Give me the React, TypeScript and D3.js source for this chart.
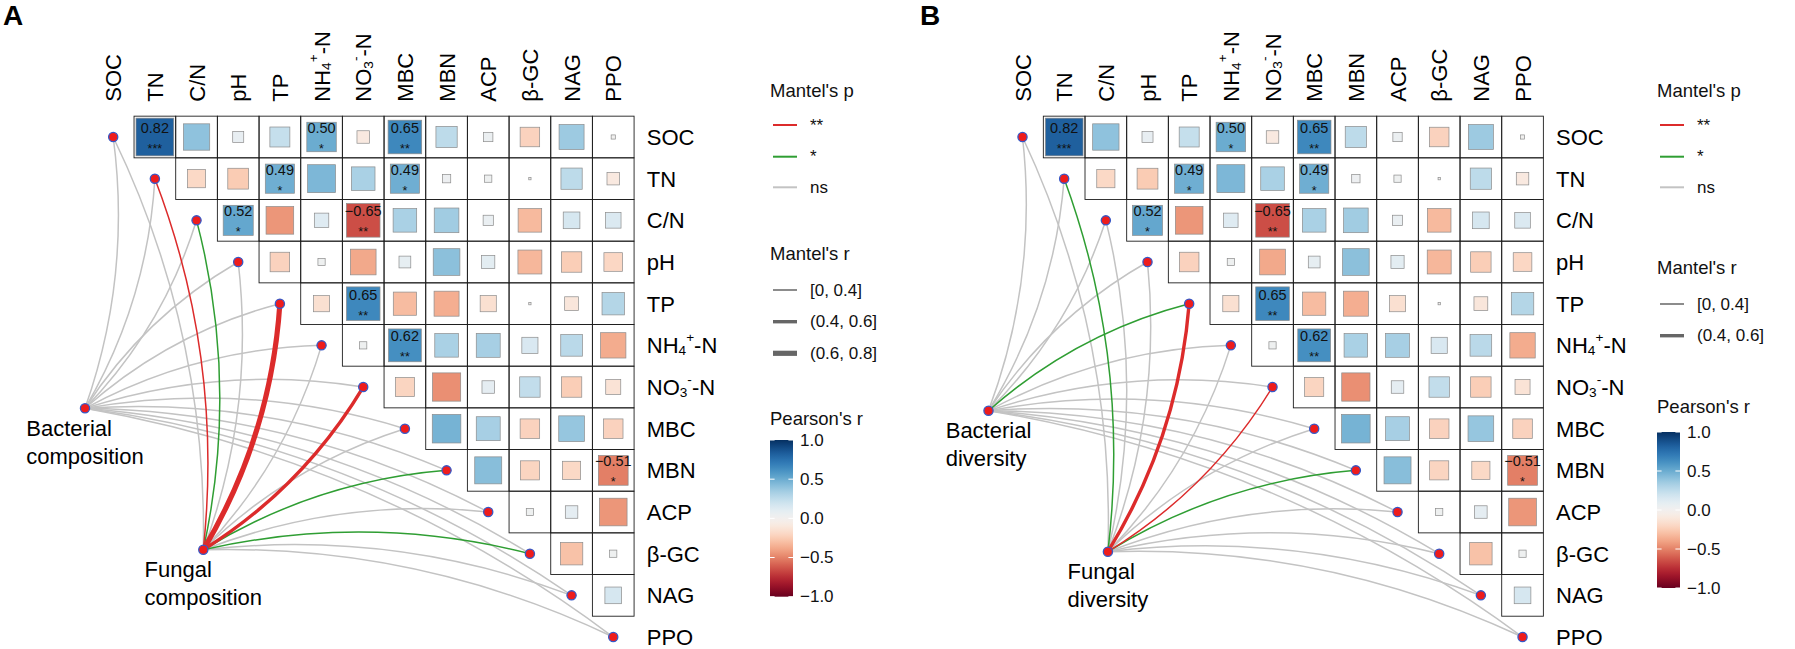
import React from "react";
import * as d3 from "d3";

const FONT = "'Liberation Sans', Arial, Helvetica, sans-serif";

// ---------- data ----------
const VAR_IDS = ["SOC", "TN", "CN", "pH", "TP", "NH4", "NO3", "MBC", "MBN", "ACP", "BGC", "NAG", "PPO"];
type Part = { t: string; sub?: boolean; sup?: boolean };
const VAR_LABELS: Part[][] = [
  [{ t: "SOC" }], [{ t: "TN" }], [{ t: "C/N" }], [{ t: "pH" }], [{ t: "TP" }],
  [{ t: "NH" }, { t: "4", sub: true }, { t: "+", sup: true }, { t: "-N" }],
  [{ t: "NO" }, { t: "3", sub: true }, { t: "-", sup: true }, { t: "-N" }],
  [{ t: "MBC" }], [{ t: "MBN" }], [{ t: "ACP" }], [{ t: "β-GC" }], [{ t: "NAG" }], [{ t: "PPO" }],
];

// Pearson's r, upper triangle (row variable vs. every later variable)
const R_SOC = [0.82, 0.40, 0.07, 0.23, 0.50, -0.09, 0.65, 0.26, 0.05, -0.22, 0.36, 0.01];
const R_TN = [-0.19, -0.25, 0.49, 0.45, 0.32, 0.49, 0.04, 0.03, 0.003, 0.26, -0.09];
const R_CN = [0.52, -0.44, 0.12, -0.65, 0.32, 0.35, 0.06, -0.32, 0.16, 0.14];
const R_PH = [-0.22, 0.03, -0.38, 0.08, 0.41, 0.10, -0.33, -0.24, -0.20];
const R_TP = [-0.15, 0.65, -0.31, -0.36, -0.15, 0.003, -0.11, 0.29];
const R_NH4 = [0.03, 0.62, 0.32, 0.33, 0.15, 0.27, -0.37];
const R_NO3 = [-0.21, -0.46, 0.09, 0.24, -0.24, -0.13];
const R_MBC = [0.47, 0.33, -0.22, 0.38, -0.22];
const R_MBN = [0.42, -0.21, -0.19, -0.51];
const R_ACP = [0.03, 0.09, -0.44];
const R_BGC = [-0.29, 0.03];
const R_NAG = [0.16];
const R_ROWS = [R_SOC, R_TN, R_CN, R_PH, R_TP, R_NH4, R_NO3, R_MBC, R_MBN, R_ACP, R_BGC, R_NAG];

// significant Pearson cells
const SIG_ROW = ["SOC", "SOC", "SOC", "TN", "TN", "CN", "CN", "TP", "NH4", "MBN"];
const SIG_COL = ["TN", "NH4", "MBC", "TP", "MBC", "pH", "NO3", "NO3", "MBC", "PPO"];
const SIG_STARS = ["***", "*", "**", "*", "*", "*", "**", "**", "**", "*"];

// Mantel test classes
const P_LEVELS = ["**", "*", "ns"];
const R_LEVELS = ["[0, 0.4]", "(0.4, 0.6]", "(0.6, 0.8]"];

const A_BACT_P = ["ns", "ns", "ns", "ns", "ns", "ns", "ns", "ns", "ns", "ns", "ns", "ns", "ns"];
const A_BACT_R = [0, 0, 0, 0, 0, 0, 0, 0, 0, 0, 0, 0, 0];
const A_FUNG_P = ["ns", "**", "*", "ns", "**", "ns", "**", "ns", "*", "ns", "*", "ns", "ns"];
const A_FUNG_R = [0, 0, 0, 0, 2, 0, 1, 0, 0, 0, 0, 0, 0];

const B_BACT_P = ["ns", "ns", "ns", "ns", "*", "ns", "ns", "ns", "ns", "ns", "ns", "ns", "ns"];
const B_BACT_R = [0, 0, 0, 0, 0, 0, 0, 0, 0, 0, 0, 0, 0];
const B_FUNG_P = ["ns", "*", "ns", "ns", "**", "ns", "**", "ns", "*", "ns", "ns", "ns", "ns"];
const B_FUNG_R = [0, 0, 0, 0, 1, 0, 0, 0, 0, 0, 0, 0, 0];

const CB_TICKS = [1, 0.5, 0, -0.5, -1];

// ---------- layout ----------
const CELL = 41.67;
const ROW0 = 137;

type Env = { lines: string[]; x: number; y: number; p: string[]; r: number[] };
type PanelCfg = {
  id: string; letter: string; letterX: number; x0: number; envs: Env[];
  legendX: number; pTitle: number; pKeys: number[]; rTitle: number; rKeys: number[];
  nR: number; cTitle: number; bar: [number, number];
};

const PANELS: PanelCfg[] = [
  {
    id: "A", letter: "A", letterX: 3, x0: 113.2,
    envs: [
      { lines: ["Bacterial", "composition"], x: 85, y: 408.3, p: A_BACT_P, r: A_BACT_R },
      { lines: ["Fungal", "composition"], x: 203.3, y: 549.8, p: A_FUNG_P, r: A_FUNG_R },
    ],
    legendX: 770, pTitle: 90, pKeys: [125, 156.7, 187.3], rTitle: 253, rKeys: [290, 321.7, 353.3],
    nR: 3, cTitle: 418.3, bar: [440, 596.7],
  },
  {
    id: "B", letter: "B", letterX: 920, x0: 1022.5,
    envs: [
      { lines: ["Bacterial", "diversity"], x: 988.5, y: 410.7, p: B_BACT_P, r: B_BACT_R },
      { lines: ["Fungal", "diversity"], x: 1107.9, y: 551.7, p: B_FUNG_P, r: B_FUNG_R },
    ],
    legendX: 1657, pTitle: 90, pKeys: [125, 156.7, 187.3], rTitle: 267, rKeys: [304, 335.7],
    nR: 2, cTitle: 406, bar: [432, 588],
  },
];

const colorR = d3.scaleSequential(d3.interpolateRdBu).domain([-1, 1]);
const sizeR = d3.scaleSqrt().domain([0, 1]).range([0, CELL]);
const pColor = d3.scaleOrdinal<string, string>().domain(P_LEVELS).range(["#DC2B2B", "#2F9E33", "#C3C3C3"]);
const rWidth = d3.scaleOrdinal<number, number>().domain([0, 1, 2]).range([1.5, 3.4, 5.2]);
const fmtR = d3.format(".2f");
const fmtTick = d3.format(".1f");

let ctx: CanvasRenderingContext2D | null = null;
function textW(s: string, size: number) {
  if (!ctx) ctx = document.createElement("canvas").getContext("2d");
  if (!ctx) return s.length * size * 0.55;
  ctx.font = `${size}px ${FONT}`;
  return ctx.measureText(s).width;
}

function Parts({ parts, size }: { parts: Part[]; size: number }) {
  let shift = 0;
  return (
    <>
      {parts.map((p, i) => {
        let target = 0;
        let fs = size;
        if (p.sub) { target = size * 0.22; fs = size * 0.62; }
        if (p.sup) { target = -size * 0.38; fs = size * 0.62; }
        const dy = target - shift;
        shift = target;
        return (
          <tspan key={i} dy={dy} fontSize={fs}>{p.t}</tspan>
        );
      })}
    </>
  );
}

function Panel({ cfg }: { cfg: PanelCfg }) {
  const x = d3.scalePoint<string>().domain(VAR_IDS).range([cfg.x0, cfg.x0 + 12 * CELL]);
  const y = d3.scalePoint<string>().domain(VAR_IDS).range([ROW0, ROW0 + 12 * CELL]);
  const half = CELL / 2;

  const cells: { r: string; c: string; v: number }[] = [];
  R_ROWS.forEach((row, i) => row.forEach((v, k) => cells.push({ r: VAR_IDS[i], c: VAR_IDS[i + 1 + k], v })));

  const links: { d: string; col: string; w: number; order: number }[] = [];
  cfg.envs.forEach((env) => {
    VAR_IDS.forEach((vid, j) => {
      const x1 = x(vid)!, y1 = y(vid)!;
      const dx = x1 - env.x, dy = y1 - env.y;
      const L = Math.hypot(dx, dy);
      let nx = dy / L, ny = -dx / L;
      if (nx - ny < 0) { nx = -nx; ny = -ny; }
      const k = 0.12 * L;
      const cx = (env.x + x1) / 2 + nx * k, cy = (env.y + y1) / 2 + ny * k;
      const p = d3.path();
      p.moveTo(env.x, env.y);
      p.quadraticCurveTo(cx, cy, x1, y1);
      const pc = env.p[j];
      links.push({ d: p.toString(), col: pColor(pc), w: rWidth(env.r[j]), order: pc === "ns" ? 0 : pc === "*" ? 1 : 2 });
    });
  });
  links.sort((a, b) => a.order - b.order);

  const gradId = `grad${cfg.id}`;
  const barY = d3.scaleLinear().domain([1, -1]).range(cfg.bar);
  const lx = cfg.legendX;
  const rowLabelX = cfg.x0 + 12 * CELL + half + 12.7;

  return (
    <g>
      <defs>
        <linearGradient id={gradId} x1="0" y1="0" x2="0" y2="1">
          {d3.range(0, 41).map((i) => (
            <stop key={i} offset={i / 40} stopColor={colorR(1 - i / 20)} />
          ))}
        </linearGradient>
      </defs>
      <text x={cfg.letterX} y={25} fontSize={28} fontWeight="bold" fontFamily={FONT}>{cfg.letter}</text>

      {/* cells */}
      {cells.map((c, i) => (
        <rect key={"b" + i} x={x(c.c)! - half} y={y(c.r)! - half} width={CELL} height={CELL}
          fill="none" stroke="#1e1e1e" strokeWidth={0.9} />
      ))}
      {cells.map((c, i) => {
        const s = sizeR(Math.abs(c.v));
        return (
          <rect key={"s" + i} x={x(c.c)! - s / 2} y={y(c.r)! - s / 2} width={s} height={s}
            fill={colorR(c.v)} stroke="#8c8c8c" strokeWidth={0.7} />
        );
      })}
      {SIG_ROW.map((r, i) => {
        const cell = cells.find((c) => c.r === r && c.c === SIG_COL[i])!;
        const cx = x(cell.c)!, cy = y(cell.r)!;
        return (
          <g key={"t" + i} fontFamily={FONT} textAnchor="middle" fill="#111">
            <text x={cx} y={cy - 9} fontSize={14.5} dominantBaseline="central">{fmtR(cell.v)}</text>
            <text x={cx} y={cy + 16} fontSize={12.5}>{SIG_STARS[i]}</text>
          </g>
        );
      })}

      {/* column labels */}
      {VAR_IDS.map((v, j) => (
        <text key={"cl" + v} transform={`translate(${x(v)},${101.7}) rotate(-90)`} fontSize={22}
          fontFamily={FONT} dominantBaseline="central" textAnchor="start">
          <Parts parts={VAR_LABELS[j]} size={22} />
        </text>
      ))}
      {/* row labels */}
      {VAR_IDS.map((v, j) => (
        <text key={"rl" + v} x={rowLabelX} y={y(v)} fontSize={22} fontFamily={FONT} dominantBaseline="central">
          <Parts parts={VAR_LABELS[j]} size={22} />
        </text>
      ))}

      {/* links */}
      {links.map((l, i) => (
        <path key={"l" + i} d={l.d} fill="none" stroke={l.col} strokeWidth={l.w} strokeLinecap="round" />
      ))}
      {VAR_IDS.map((v) => (
        <circle key={"n" + v} cx={x(v)} cy={y(v)} r={4.6} fill="#EE1C1C" stroke="#3558C8" strokeWidth={1.3} />
      ))}
      {cfg.envs.map((env, i) => {
        const w = Math.max(...env.lines.map((s) => textW(s, 22)));
        return (
          <g key={"e" + i}>
            <circle cx={env.x} cy={env.y} r={4.6} fill="#EE1C1C" stroke="#3558C8" strokeWidth={1.3} />
            {env.lines.map((s, k) => (
              <text key={k} x={env.x - w / 2} y={env.y + 20 + k * 28} fontSize={22} fontFamily={FONT}
                dominantBaseline="central">{s}</text>
            ))}
          </g>
        );
      })}

      {/* legends */}
      <g fontFamily={FONT} fill="#111">
        <text x={lx} y={cfg.pTitle} fontSize={18.5} dominantBaseline="central">Mantel's p</text>
        {P_LEVELS.map((p, i) => (
          <g key={"pk" + p}>
            <line x1={lx + 3} x2={lx + 27} y1={cfg.pKeys[i]} y2={cfg.pKeys[i]} stroke={pColor(p)} strokeWidth={2} />
            <text x={lx + 40} y={cfg.pKeys[i]} fontSize={17} dominantBaseline="central">{p}</text>
          </g>
        ))}
        <text x={lx} y={cfg.rTitle} fontSize={18.5} dominantBaseline="central">Mantel's r</text>
        {R_LEVELS.slice(0, cfg.nR).map((r, i) => (
          <g key={"rk" + i}>
            <line x1={lx + 3} x2={lx + 27} y1={cfg.rKeys[i]} y2={cfg.rKeys[i]} stroke="#666" strokeWidth={rWidth(i)} />
            <text x={lx + 40} y={cfg.rKeys[i]} fontSize={17} dominantBaseline="central">{r}</text>
          </g>
        ))}
        <text x={lx} y={cfg.cTitle} fontSize={18.5} dominantBaseline="central">Pearson's r</text>
        <rect x={lx} y={cfg.bar[0]} width={23} height={cfg.bar[1] - cfg.bar[0]} fill={`url(#${gradId})`} />
        {CB_TICKS.map((t) => (
          <g key={"ct" + t}>
            <line x1={lx} x2={lx + 4.6} y1={barY(t)} y2={barY(t)} stroke="#fff" strokeWidth={1} />
            <line x1={lx + 18.4} x2={lx + 23} y1={barY(t)} y2={barY(t)} stroke="#fff" strokeWidth={1} />
            <text x={lx + 30} y={barY(t)} fontSize={17} dominantBaseline="central">{fmtTick(t)}</text>
          </g>
        ))}
      </g>
    </g>
  );
}

export default function App() {
  return (
    <svg width={1795} height={649} style={{ position: "absolute", left: 0, top: 0, background: "#fff" }}>
      <rect width={1795} height={649} fill="#fff" />
      {PANELS.map((p) => <Panel key={p.id} cfg={p} />)}
    </svg>
  );
}
